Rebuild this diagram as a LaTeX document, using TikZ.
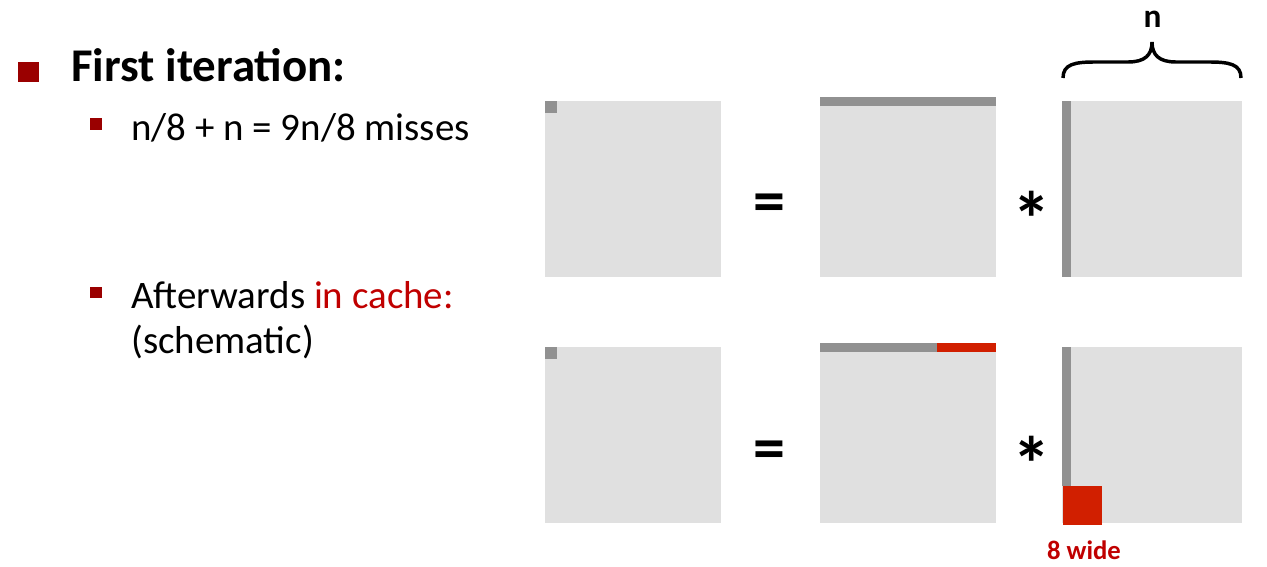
\documentclass[tikz,border=0pt]{standalone}
\usepackage{fontspec}
\setmainfont{Carlito}
\definecolor{lgray}{HTML}{E0E0E0}
\definecolor{dgray}{HTML}{919191}
\definecolor{bred}{HTML}{9A0000}
\definecolor{tred}{HTML}{C00000}
\definecolor{blk}{HTML}{D11F00}
\begin{document}
\begin{tikzpicture}[x=0.75pt,y=-0.75pt,
  bigbul/.style={fill=bred},
  smallbul/.style={fill=bred},
  head/.style={anchor=base west,inner sep=0pt,font=\fontsize{35.2}{40}\selectfont\bfseries},
  sub/.style={anchor=base west,inner sep=0pt,font=\fontsize{29.2}{34}\selectfont},
  op/.style={anchor=base,inner sep=0pt,font=\fontsize{48}{54}\selectfont\bfseries},
  star/.style={anchor=base,inner sep=0pt,font=\fontsize{58}{64}\selectfont\bfseries},
  mat/.style={fill=lgray},
  hit/.style={fill=dgray},
  cached/.style={fill=blk}]
\useasboundingbox (0,0) rectangle (1267,567);
% bullets and text
\fill[bigbul] (18,62) rectangle (39,82);
\node[head] (t1) at (71,82) {First iteration:};
\fill[smallbul] (90,118) rectangle (102,130);
\node[sub] (t2) at (131,140) {n/8 + n = 9n/8 misses};
\fill[smallbul] (90,287) rectangle (102,298);
\node[sub] (t3) at (131,308) {Afterwards \textcolor{tred}{in cache:}};
\node[sub] (t4) at (131,353) {(schematic)};
% top row
\fill[mat] (545,101) rectangle (721,277);
\fill[hit] (545,101) rectangle (557,113);
\node[op] (eq1) at (769.5,222) {=};
\fill[mat] (820,97) rectangle (996,277);
\fill[hit] (820,97) rectangle (996,106);
\node[star] (st1) at (1031.5,246) {*};
\fill[mat] (1062,101) rectangle (1242,277);
\fill[hit] (1062,101) rectangle (1071,277);
% brace
\draw[line width=2.6pt] (1063,78) .. controls (1063,64) and (1075,62) .. (1095,62) -- (1128,62) .. controls (1145,62) and (1152,55) .. (1152,42)
  .. controls (1152,55) and (1159,62) .. (1176,62) -- (1209,62) .. controls (1229,62) and (1241,64) .. (1241,78);
\node[anchor=base,inner sep=0pt,font=\fontsize{25}{30}\selectfont\bfseries] (n) at (1152.5,28) {n};
% bottom row
\fill[mat] (545,347) rectangle (721,523);
\fill[hit] (545,347) rectangle (557,359);
\node[op] (eq2) at (769.5,469) {=};
\fill[mat] (820,343) rectangle (996,523);
\fill[hit] (820,343) rectangle (937,352);
\fill[cached] (937,343) rectangle (996,352);
\node[star] (st2) at (1031.5,491) {*};
\fill[mat] (1062,347) rectangle (1242,523);
\fill[hit] (1062,347) rectangle (1071,486);
\fill[cached] (1063,486) rectangle (1102,525);
\node[anchor=base,inner sep=0pt,text=tred,font=\fontsize{20}{24}\selectfont\bfseries] (w8) at (1084,559) {8 wide};
\end{tikzpicture}
\end{document}
